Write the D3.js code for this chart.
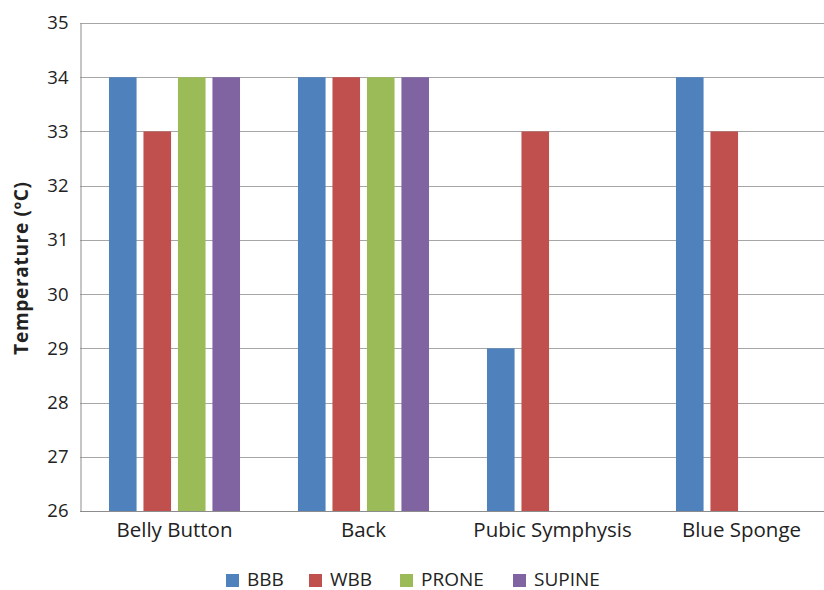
<!DOCTYPE html>
<html>
<head>
<meta charset="utf-8">
<script src="https://cdn.jsdelivr.net/npm/d3@7"></script>
<style>
  html, body { margin: 0; padding: 0; background: #fff; }
  svg { display: block; }
  text { font-family: "Open Sans", sans-serif; fill: #222; }
</style>
</head>
<body>
<div id="chart"></div>
<script>
// Skin temperature by measurement site
const categories = ["Belly Button", "Back", "Pubic Symphysis", "Blue Sponge"];
const seriesNames = ["BBB", "WBB", "PRONE", "SUPINE"];
const seriesColors = ["#4F81BD", "#C0504D", "#9BBB59", "#8064A2"];
const bbb = [34, 34, 29, 34];
const wbb = [33, 34, 33, 33];
const prone = [34, 34, null, null];
const supine = [34, 34, null, null];
const yTicks = [26, 27, 28, 29, 30, 31, 32, 33, 34, 35];

const seriesValues = [bbb, wbb, prone, supine];

const W = 824, H = 590;
const svg = d3.select("#chart").append("svg")
  .attr("width", W).attr("height", H);

const plotLeft = 80, plotTop = 23, plotBottom = 511;

const x = d3.scaleBand().domain(categories).range([plotLeft, 836]).paddingInner(0).paddingOuter(0);
const y = d3.scaleLinear().domain([26, 35]).range([plotBottom, plotTop]);

// slot for each series inside a category band
const slot = d3.scaleBand().domain(seriesNames)
  .range([0, x.bandwidth()]).paddingOuter(0.84).paddingInner(0.2);

// horizontal gridlines
svg.append("g").selectAll("line").data(yTicks.filter(t => t !== 26)).join("line")
  .attr("x1", plotLeft).attr("x2", W)
  .attr("y1", d => Math.round(y(d)) + 0.5).attr("y2", d => Math.round(y(d)) + 0.5)
  .attr("stroke", "#a6a6a6").attr("stroke-width", 1);

// bars
seriesNames.forEach((name, si) => {
  const data = categories.map((c, i) => ({ c, v: seriesValues[si][i] }))
    .filter(d => d.v != null);
  svg.append("g").selectAll("rect").data(data).join("rect")
    .attr("x", d => x(d.c) + slot(name))
    .attr("width", slot.bandwidth())
    .attr("y", d => y(d.v))
    .attr("height", d => y(26) - y(d.v))
    .attr("fill", seriesColors[si]);
});

// axes
const yAxis = d3.axisLeft(y).tickValues(yTicks).tickSize(0).tickPadding(12);
const gy = svg.append("g").attr("transform", `translate(${plotLeft + 0.5},0)`).call(yAxis);
gy.select(".domain").attr("stroke", "#8c8c8c");
gy.selectAll("text").style("font-size", "18.5px").attr("fill", "#222");

const xAxis = d3.axisBottom(x).tickSize(0).tickPadding(11);
const gx = svg.append("g").attr("transform", `translate(0,${plotBottom + 0.5})`).call(xAxis);
gx.select(".domain").attr("d", `M${plotLeft},0H${W}`).attr("stroke", "#8c8c8c");
gx.selectAll("text").style("font-size", "20.5px").attr("fill", "#222");

// y axis title
svg.append("text")
  .attr("transform", `translate(28,${(plotTop + plotBottom) / 2 + 1}) rotate(-90)`)
  .attr("text-anchor", "middle")
  .style("font-size", "19px").style("font-weight", "bold")
  .style("letter-spacing", "0.7px")
  .text("Temperature (ºC)");

// legend
const legendX = [226, 309, 400, 513];
const lg = svg.append("g");
seriesNames.forEach((name, i) => {
  lg.append("rect").attr("x", legendX[i]).attr("y", 574)
    .attr("width", 13).attr("height", 13).attr("fill", seriesColors[i]);
  lg.append("text").attr("x", legendX[i] + 21).attr("y", 586)
    .style("font-size", "19px").text(name);
});
</script>
</body>
</html>
